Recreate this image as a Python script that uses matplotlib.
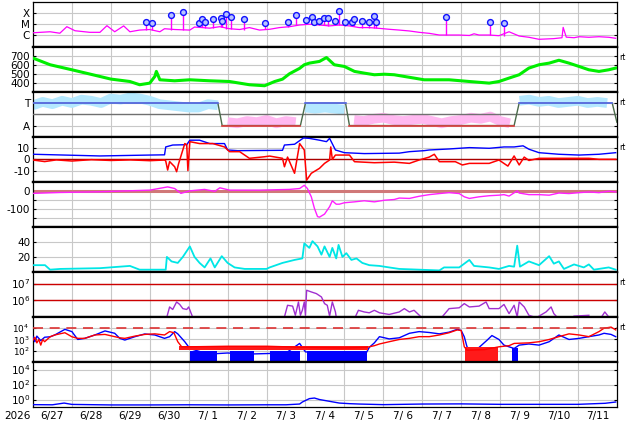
import numpy as np
import matplotlib
matplotlib.use("Agg")
import matplotlib.pyplot as plt

plt.rcParams["axes.unicode_minus"] = False

# time axis: days since 2026-06-27 00:00
day_labels = ["6/27", "6/28", "6/29", "6/30", "7/ 1", "7/ 2", "7/ 3", "7/ 4",
              "7/ 5", "7/ 6", "7/ 7", "7/ 8", "7/ 9", "7/10", "7/11"]

# --- X-ray flux (log10 W/m2), background level
xray_t = [0, 0.44, 0.69, 0.87, 1.08, 1.46, 1.72, 1.9, 2.1, 2.33, 2.49, 2.74, 3.0, 3.26,
          3.38, 3.64, 4.03, 4.15, 4.54, 4.8, 5.05, 5.31, 5.56, 5.82, 6.08, 6.33, 6.59,
          6.85, 7.1, 7.36, 7.62, 7.87, 8.13, 8.38, 8.64, 8.9, 9.15, 9.41, 9.67, 9.92,
          10.18, 10.44, 10.69, 10.95, 11.21, 11.33, 11.46, 11.72, 11.97, 12.23, 12.49,
          12.74, 13.0, 13.38, 13.59, 13.62, 13.7, 13.9, 14.03, 14.28, 14.54, 14.79, 14.97]
xray_log = [-5.76, -5.67, -5.8, -5.22, -5.58, -5.72, -5.72, -5.13, -5.67, -5.15, -5.67,
            -5.52, -5.47, -5.67, -5.4, -5.47, -5.52, -5.25, -5.35, -5.22, -5.4, -5.47,
            -5.3, -5.52, -5.45, -5.3, -5.22, -5.07, -5.0, -5.07, -5.15, -5.07, -5.15,
            -5.3, -5.3, -5.37, -5.45, -5.52, -5.6, -5.72, -5.81, -5.96, -5.96, -5.96,
            -6.0, -5.85, -5.96, -5.96, -6.02, -5.67, -6.05, -6.16, -6.34, -6.28, -6.2,
            -5.28, -6.15, -6.2, -6.11, -6.16, -6.11, -6.16, -6.25]
# flares of M class and above: peak time and peak size (units of 1e-5 W/m2)
flare_t = [2.9, 3.06, 3.55, 3.85, 4.26, 4.33, 4.42, 4.62, 4.82, 4.85, 4.97, 5.1, 5.42,
           5.96, 6.55, 6.76, 7.02, 7.16, 7.21, 7.34, 7.47, 7.58, 7.77, 7.85, 8.02, 8.2,
           8.24, 8.45, 8.62, 8.75, 8.8, 10.6, 11.75, 12.09]
flare_m = [1.5, 1.2, 6.6, 11.5, 1.2, 2.8, 1.5, 2.8, 3.3, 1.8, 7.6, 4.1, 2.8, 1.2, 1.5,
           6.2, 2.2, 4.4, 1.5, 1.9, 3.3, 3.3, 1.8, 15.0, 1.5, 1.5, 2.8, 1.8, 1.5, 5.4,
           1.5, 4.1, 1.5, 1.2]

# --- solar wind speed (km/s)
vsw_t = [0, 0.44, 1.0, 1.72, 2.0, 2.49, 2.74, 3.0, 3.13, 3.17, 3.26, 3.64, 4.03, 4.54,
         5.05, 5.56, 5.95, 6.21, 6.41, 6.59, 6.85, 6.97, 7.1, 7.36, 7.54, 7.74, 8.0,
         8.26, 8.51, 8.77, 9.03, 9.28, 9.54, 9.79, 10.05, 10.69, 11.21, 11.72, 11.97,
         12.23, 12.49, 12.74, 13.0, 13.26, 13.51, 13.77, 14.03, 14.28, 14.54, 14.79, 14.97]
vsw = [674, 600, 544, 470, 441, 414, 378, 396, 470, 526, 433, 422, 433, 422, 414, 378,
       367, 414, 440, 500, 560, 600, 618, 637, 680, 600, 581, 526, 507, 489, 495, 489,
       470, 452, 433, 433, 414, 396, 414, 452, 489, 563, 600, 618, 650, 618, 581, 544,
       526, 544, 563]

# --- IMF sector (T = +1, A = -1) and azimuth samples every 6 h
sector_t = [0, 4.75, 4.86, 6.87, 7.0, 8.03, 8.13, 12.36, 12.49, 14.88, 15.0]
sector_v = [1, 1, -1, -1, 1, 1, -1, -1, 1, 1, -0.7]
phi_v = [0.8, 1.1, 0.9, 1.2, 1.0, 1.3, 1.2, 1.0, 1.4, 1.3, 1.5, 1.4, 1.2, 0.9, 0.8, 0.7,
         0.6, 0.6, 0.9, 0.8, -0.7, -0.8, -0.6, -0.7, -0.5, -0.8, -0.6, -0.7, 0.6, 0.5,
         0.6, 0.5, 0.4, -0.5, -0.6, -0.4, -0.3, -0.5, -0.6, -0.5, -0.4, -0.6, -0.8, -0.6,
         -0.5, -0.3, -0.4, -0.2, -0.6, -0.8, 1.2, 1.3, 1.1, 1.2, 1.0, 1.1, 1.2, 1.0, 1.1,
         1.0, -0.6]

# --- IMF Bt / Bz (nT)
bt_t = [0, 1.72, 3.0, 3.38, 3.41, 3.59, 3.95, 4.03, 4.28, 4.54, 4.92, 5.0, 5.26, 6.41,
        6.46, 6.72, 6.95, 7.1, 7.36, 7.54, 7.62, 7.77, 8.0, 8.51, 9.41, 9.67, 10.05,
        10.18, 10.69, 11.21, 11.72, 12.1, 12.36, 12.59, 12.74, 13.0, 13.51, 14.03,
        14.54, 14.97]
bt = [4.5, 3, 3.8, 4, 11, 12.7, 13, 17, 17, 14, 14, 8.3, 7.7, 8, 12.7, 13.4, 19, 18.6,
      17, 15.7, 18.6, 8.3, 5.9, 5.1, 5.5, 6.8, 7.7, 8.3, 9.2, 10.4, 9.8, 11, 11, 12, 9,
      5.9, 4.5, 3.8, 4.5, 5.9]
bz_t = [0, 0.3, 0.6, 1.0, 1.5, 2.0, 2.5, 3.0, 3.38, 3.41, 3.46, 3.51, 3.64, 3.69, 3.74,
        3.9, 3.95, 3.98, 4.03, 4.28, 4.62, 4.92, 5.05, 5.31, 5.56, 5.95, 6.08, 6.41,
        6.46, 6.54, 6.72, 6.85, 6.97, 7.03, 7.15, 7.36, 7.49, 7.62, 7.65, 7.69, 7.77,
        8.13, 8.26, 8.77, 9.28, 9.67, 9.92, 10.18, 10.31, 10.44, 10.85, 11.03, 11.21,
        11.72, 11.97, 12.2, 12.36, 12.49, 12.62, 12.74, 13.0, 14.28, 14.54, 14.97]
bz = [-0.6, -2, -0.5, -1.5, -0.3, -1, -0.5, -1.2, -0.6, -1.4, -9.5, -2, -6.6, -11, -4,
      14, 13, -10, 15.7, 14, 14, 11, 6.8, 6.8, 0.9, 2.3, 2.9, 0.9, -6.6, 2, -12.4, 14,
      8.3, -18.5, -12.4, -8, -3.6, -0.6, 11, 0, 3.8, 3.8, -2.1, -3, -2.5, -3.6, -0.6,
      2, 4.5, -2.1, -2.1, -5, -3.6, -3.6, -0.6, -6, 3, -5, 2, -1, 0.9, 0.9, 0, 0]

# --- Dst (nT)
dst_t = [0, 0.69, 1.72, 3.0, 3.46, 3.64, 3.8, 4.03, 4.41, 4.67, 4.8, 5.05, 5.82, 6.59,
         6.85, 6.97, 7.05, 7.15, 7.23, 7.31, 7.36, 7.49, 7.62, 7.69, 7.79, 7.87, 8.0,
         8.26, 8.51, 8.77, 9.03, 9.28, 9.41, 9.67, 9.92, 10.18, 10.44, 10.69, 10.95,
         11.08, 11.21, 11.46, 11.72, 11.97, 12.1, 12.23, 12.44, 12.49, 12.74, 13.0,
         13.26, 13.51, 13.77, 14.03, 14.28, 14.54, 14.79, 14.97]
dst = [-14, -9, -5, 4, 22, 13, -14, 0, 8, -3, 17, 4, 4, 8, 13, 31, 13, -33, -97, -143,
       -146, -129, -88, -55, -74, -74, -66, -61, -55, -61, -52, -48, -40, -42, -30, -21,
       -15, -10, -15, -33, -42, -33, -27, -24, -21, -29, 0, -12, -21, -21, -24, -12, -15,
       -10, -6, -10, -2, -6]

# --- AE-like index (cyan)
idx_t = [0, 0.31, 0.44, 0.7, 1.72, 2.49, 2.74, 3.41, 3.44, 3.56, 3.72, 3.85, 4.03, 4.15,
         4.28, 4.41, 4.56, 4.67, 4.85, 5.0, 5.18, 5.44, 6.0, 6.08, 6.41, 6.72, 6.92,
         6.97, 7.1, 7.18, 7.31, 7.41, 7.49, 7.62, 7.69, 7.79, 7.85, 7.95, 8.05, 8.18,
         8.31, 8.46, 8.64, 8.9, 9.15, 9.41, 9.92, 10.44, 10.56, 10.95, 11.21, 11.33,
         11.72, 11.97, 12.23, 12.36, 12.44, 12.51, 12.74, 13.0, 13.26, 13.38, 13.51,
         13.64, 13.9, 14.15, 14.28, 14.41, 14.79, 14.97]
idx_v = [9, 9, 3, 4, 5, 8, 3, 3, 20, 14, 12, 20, 34, 20, 12, 6, 18, 6, 21, 12, 6, 4, 4,
         6, 12, 16, 18, 38, 32, 41, 34, 23, 34, 20, 32, 18, 36, 20, 25, 16, 18, 12, 9, 8,
         6, 4, 3, 2, 6, 6, 16, 8, 6, 4, 8, 7, 35, 7, 14, 9, 21, 11, 14, 4, 10, 6, 10, 3,
         6, 3]

# --- electron flux (log10), gaps where below scale
ef_t = [3.44, 3.51, 3.59, 3.69, 3.77, 3.85, 3.95, 4.0, 4.1, 4.11,
        6.46, 6.54, 6.67, 6.74, 6.82, 6.87, 6.92, 6.97, 7.0, 7.03, 7.15, 7.28, 7.41,
        7.49, 7.56, 7.62, 7.69, 7.77, 7.79, 7.8,
        8.28, 8.36, 8.51, 8.64, 8.77, 8.9, 9.15, 9.41, 9.54, 9.67, 9.79, 9.97, 9.98,
        10.51, 10.69, 10.95, 11.08, 11.21, 11.46, 11.64, 11.72, 11.97, 12.1, 12.23,
        12.36, 12.44, 12.49, 12.62, 12.74, 12.87, 12.88,
        13.0, 13.18, 13.31, 13.38, 13.46, 13.47,
        13.9, 14.28, 14.29,
        14.62, 14.69, 14.79]
ef_log = [5.0, 5.6, 5.45, 5.9, 5.75, 5.5, 5.45, 5.6, 5.0, np.nan,
          5.0, 5.7, 5.65, 5.1, 5.9, 5.1, 5.4, 5.9, 5.1, 6.6, 6.5, 6.4, 6.2, 5.8, 5.7,
          5.05, 5.9, 5.3, 5.0, np.nan,
          5.0, 5.4, 5.3, 5.25, 5.4, 5.25, 5.15, 5.3, 5.5, 5.3, 5.4, 5.0, np.nan,
          5.0, 5.5, 5.55, 5.8, 5.6, 5.65, 5.9, 5.5, 5.5, 5.75, 5.2, 5.7, 5.0, 5.9, 5.6,
          5.1, 5.0, np.nan,
          5.05, 5.3, 5.6, 5.2, 5.0, np.nan,
          5.05, 5.1, np.nan,
          5.05, 5.3, 5.0]

# --- proton flux pair (log10)
pb_t = [0, 0.05, 0.1, 0.2, 0.3, 0.44, 0.56, 0.82, 1.0, 1.15, 1.33, 1.59, 1.85, 2.1,
        2.23, 2.36, 2.62, 2.87, 3.13, 3.38, 3.51, 3.64, 3.72, 3.9, 4.03, 4.5, 5.0, 5.5,
        6.0, 6.5, 6.85, 7.0, 7.5, 8.0, 8.3, 8.56, 8.64, 8.77, 8.9, 9.03, 9.15, 9.41,
        9.67, 9.92, 10.18, 10.44, 10.69, 10.9, 11.0, 11.08, 11.15, 11.3, 11.67, 11.79,
        11.97, 12.1, 12.23, 12.36, 12.49, 12.74, 13.0, 13.26, 13.51, 13.77, 14.03,
        14.28, 14.54, 14.67, 14.85, 14.97]
pb_log = [3.24, 2.8, 3.3, 2.9, 3.2, 3.24, 3.4, 3.9, 3.7, 3.0, 3.1, 3.4, 3.76, 3.55, 3.1,
          2.95, 3.25, 3.49, 3.4, 3.1, 3.25, 3.7, 3.5, 2.8, 2.2, 1.7, 1.8, 1.7, 1.75, 1.8,
          2.65, 1.9, 1.75, 1.8, 1.75, 1.8, 2.3, 2.7, 3.25, 3.15, 3.05, 3.15, 3.55, 3.7,
          3.62, 3.5, 3.65, 3.9, 3.8, 3.24, 2.35, 1.8, 2.95, 3.35, 3.0, 2.5, 2.35, 2.2,
          2.5, 2.6, 2.5, 2.8, 3.4, 3.0, 3.1, 3.25, 3.4, 3.55, 3.45, 3.25]
# stretches where the blue trace scatters down to the floor: start, end, top (log10)
pb_noisy = [(4.03, 4.72, 2.0), (5.05, 5.69, 2.0), (6.08, 6.85, 2.0), (7.03, 8.59, 1.95),
            (11.15, 11.6, 2.2), (12.3, 12.45, 2.2)]
pr_t = [0, 0.05, 0.1, 0.15, 0.2, 0.25, 0.3, 0.44, 0.56, 0.82, 1.0, 1.15, 1.33, 1.59,
        1.85, 2.1, 2.23, 2.36, 2.62, 2.87, 3.13, 3.38, 3.51, 3.62, 3.72, 3.82, 4.03, 5.0,
        6.0, 7.0, 8.0, 8.56, 8.64, 8.77, 8.9, 9.15, 9.41, 9.67, 9.92, 10.18, 10.44,
        10.69, 10.9, 11.0, 11.08, 11.15, 11.6, 11.97, 12.23, 12.36, 12.74, 13.0, 13.26,
        13.51, 13.77, 14.03, 14.28, 14.54, 14.67, 14.85, 14.97]
pr_log = [2.95, 3.2, 2.7, 3.0, 2.5, 3.0, 2.8, 3.24, 3.4, 3.6, 3.24, 3.1, 3.1, 3.4, 3.45,
          3.25, 3.15, 3.1, 3.3, 3.45, 3.5, 3.4, 3.7, 3.6, 2.8, 2.35, 2.35, 2.4, 2.4, 2.3,
          2.25, 2.3, 2.35, 2.45, 2.6, 2.8, 3.0, 3.1, 3.25, 3.25, 3.4, 3.6, 3.85, 3.8,
          2.35, 2.05, 2.1, 2.35, 2.45, 2.65, 2.7, 2.8, 3.0, 3.25, 3.5, 3.4, 3.25, 3.7,
          4.0, 4.1, 3.85]
# stretches where the red trace is a dense noise band: start, end, low, high (log10)
pr_noisy = [(3.75, 8.6, 2.05, 2.45), (11.1, 11.95, 1.0, 2.3)]

# --- bottom panel flux (log10)
lo_t = [0, 0.5, 0.8, 1.0, 2.0, 3.0, 4.0, 5.0, 6.0, 6.5, 6.85, 6.92, 7.1, 7.23, 7.36,
        7.62, 7.87, 8.13, 8.38, 9.0, 10.0, 11.0, 12.0, 13.0, 14.0, 14.7, 14.97]
lo_log = [-0.68, -0.7, -0.47, -0.65, -0.72, -0.72, -0.7, -0.72, -0.7, -0.7, -0.6, -0.33,
          0.12, 0.2, 0.0, -0.24, -0.47, -0.55, -0.6, -0.68, -0.6, -0.58, -0.64, -0.64,
          -0.64, -0.5, -0.33]

GRID = "#c8c8c8"
fig, axes = plt.subplots(9, 1, sharex=True, figsize=(6.34, 4.24), dpi=100)
fig.subplots_adjust(left=0.052, right=0.973, top=0.996, bottom=0.04, hspace=0)

for i, ax in enumerate(axes):
    ax.set_xlim(0, 15)
    ax.set_xticks(range(1, 15))
    ax.grid(True, color=GRID, linewidth=0.8, zorder=0)
    ax.set_axisbelow(True)
    ax.tick_params(axis="y", labelsize=7.5, length=2, direction="in", pad=2, right=True)
    ax.tick_params(axis="x", which="both", length=0, labelbottom=False)
    for s in ("left", "right"):
        ax.spines[s].set_linewidth(0.9)
    ax.spines["top"].set_linewidth(0.9 if i == 0 else 1.6)
    ax.spines["bottom"].set_linewidth(0.9 if i == 8 else 1.6)

# 1: X-ray
ax = axes[0]
xt = np.array(xray_t)
xb = 10 ** np.array(xray_log)
ax.plot(xt, xb, color="#ff00ff", lw=0.9, zorder=3)
fl_t = np.array(flare_t)
fl_peak = np.array(flare_m) * 1e-5
near = np.abs(xt[:, None] - fl_t[None, :]).argmin(axis=0)
ax.vlines(fl_t, xb[near], fl_peak, color="#ff00ff", lw=1.0, zorder=3)
ax.plot(fl_t, fl_peak, "o", ms=4.2, mfc="#b8c4ff", mec="#1010ff", mew=1.0, zorder=4)
ax.set_yscale("log")
ax.set_ylim(1e-7, 1e-3)
ax.set_yticks([1e-6, 1e-5, 1e-4])
ax.set_yticklabels(["C", "M", "X"])
ax.minorticks_off()

# 2: solar wind speed
ax = axes[1]
ax.plot(vsw_t, vsw, color="#00ee00", lw=2.2, zorder=3)
ax.set_ylim(300, 800)
ax.set_yticks([400, 500, 600, 700])

# 3: IMF sector
ax = axes[2]
phi_t = np.arange(len(phi_v)) * 0.25
pv = np.array(phi_v)
ax.plot(phi_t, np.where(pv > 0, pv, np.nan), color="#b4e8ff", lw=7, zorder=2,
        solid_capstyle="butt")
ax.plot(phi_t, np.where(pv < 0, pv, np.nan), color="#ffb8f0", lw=7, zorder=2,
        solid_capstyle="butt")
ax.axhline(0, color="#707070", lw=1.0, zorder=3)
sv = np.array(sector_v, dtype=float)
ax.plot(sector_t, sv, color="#4a6a4a", lw=1.0, zorder=4)
ax.plot(sector_t, np.where(sv == 1, sv, np.nan), color="#5b6cf0", lw=1.2, zorder=5)
ax.plot(sector_t, np.where(sv == -1, sv, np.nan), color="#e04040", lw=1.2, zorder=5)
ax.set_ylim(-2, 2)
ax.set_yticks([-1, 1])
ax.set_yticklabels(["A", "T"])

# 4: Bt / Bz
ax = axes[3]
ax.axhline(0, color="#aa0000", lw=1.0, zorder=2)
ax.plot(bt_t, bt, color="#0000ff", lw=1.0, zorder=3)
ax.plot(bz_t, bz, color="#ff0000", lw=1.1, zorder=4)
ax.set_ylim(-20, 20)
ax.set_yticks([-10, 0, 10])

# 5: Dst
ax = axes[4]
ax.axhline(0, color="#d07878", lw=2.2, zorder=2)
ax.plot(dst_t, dst, color="#ff20ff", lw=1.0, zorder=3)
ax.set_ylim(-200, 50)
ax.set_yticks([-150, -100, -50, 0])
ax.set_yticklabels(["", "-100", "", "0"])

# 6: index
ax = axes[5]
ax.plot(idx_t, idx_v, color="#00e6e6", lw=1.3, zorder=3)
ax.set_ylim(0, 60)
ax.set_yticks([20, 40])

# 7: electron flux
ax = axes[6]
ax.axhline(1e6, color="#cc0000", lw=1.0, zorder=2)
ax.axhline(1e7, color="#cc0000", lw=1.0, zorder=2)
ax.plot(ef_t, 10 ** np.array(ef_log), color="#a030d0", lw=1.0, zorder=3)
ax.set_yscale("log")
ax.set_ylim(1e5, 5e7)
ax.set_yticks([1e6, 1e7])
ax.minorticks_off()

# 8: proton flux
ax = axes[7]
ax.set_yscale("log")
for a, b, top in pb_noisy:
    ax.fill_between([a, b], 10, 10 ** top, color="#0000ff", lw=0, zorder=2)
ax.plot(pb_t, 10 ** np.array(pb_log), color="#0000ff", lw=1.0, zorder=3)
for a, b, low, high in pr_noisy:
    ax.fill_between([a, b], 10 ** low, 10 ** high, color="#ff1a1a", lw=0, zorder=4)
ax.plot(pr_t, 10 ** np.array(pr_log), color="#ff0000", lw=1.0, zorder=5)
ax.axhline(1e4, color="#dd3333", lw=1.2, dashes=(6, 4), zorder=6)
ax.set_ylim(10, 1e5)
ax.set_yticks([1e2, 1e3, 1e4])
ax.tick_params(axis="y", labelsize=6.4, pad=2.5)
ax.minorticks_off()

# 9: low-energy flux
ax = axes[8]
ax.plot(lo_t, 10 ** np.array(lo_log), color="#0000ff", lw=1.0, zorder=3)
ax.set_yscale("log")
ax.set_ylim(1e-1, 1e5)
ax.set_yticks([1e0, 1e2, 1e4])
ax.minorticks_off()
ax.set_xticks(np.arange(15) + 0.5, minor=True)
ax.set_xticklabels(day_labels, minor=True)
ax.tick_params(axis="x", which="minor", labelbottom=True, labelsize=7.5, pad=3)

fig.text(0.028, 0.018, "2026", ha="center", va="center", fontsize=7.5)
for i in (1, 2, 3, 6, 7):
    pos = axes[i].get_position()
    fig.text(0.977, pos.y1 - 0.025, "rt", fontsize=5.5, ha="left", va="center")

fig.savefig("out.png", dpi=100)
